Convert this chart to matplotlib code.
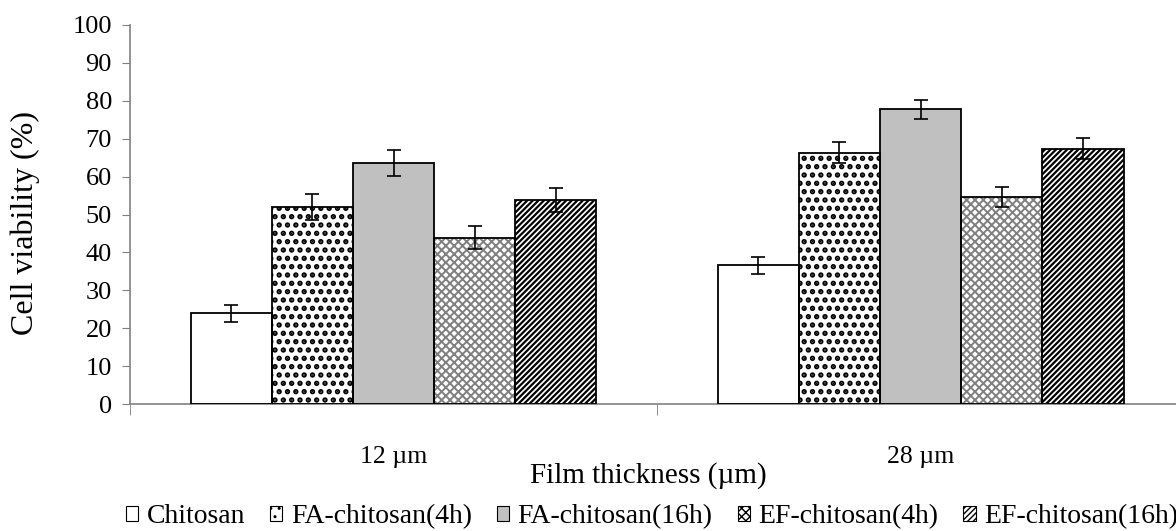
import matplotlib.pyplot as plt
import numpy as np

# data
thickness = ["12 \u00b5m", "28 \u00b5m"]
series = ["Chitosan", "FA-chitosan(4h)", "FA-chitosan(16h)", "EF-chitosan(4h)", "EF-chitosan(16h)"]
chitosan = [23.9, 36.6]
fa_4h = [52.0, 66.3]
fa_16h = [63.5, 77.8]
ef_4h = [43.9, 54.7]
ef_16h = [53.9, 67.4]
chitosan_err = [2.2, 2.3]
fa_4h_err = [3.5, 2.7]
fa_16h_err = [3.4, 2.5]
ef_4h_err = [3.0, 2.6]
ef_16h_err = [3.2, 2.8]

values = [chitosan, fa_4h, fa_16h, ef_4h, ef_16h]
errors = [chitosan_err, fa_4h_err, fa_16h_err, ef_4h_err, ef_16h_err]

# fill, hatch, hatch colour, hatch linewidth for each series
styles = [("white", "", "black", 1.0),
          ("white", "..", "black", 2.6),
          ("#c0c0c0", "", "black", 1.0),
          ("white", "xxxx", "#808080", 1.4),
          ("white", "//////", "black", 1.6)]

plt.rcParams['font.family'] = ['Liberation Serif', 'DejaVu Serif']

fig = plt.figure(figsize=(11.76, 5.31), dpi=100)
ax = fig.add_axes([0.1105, 0.239, 0.8965, 0.714])

x = np.arange(len(thickness))
w = 0.154
handles = []
for i, (vals, errs) in enumerate(zip(values, errors)):
    fc, hatch, hc, hlw = styles[i]
    pos = x + (i - 2) * w
    with plt.rc_context({'hatch.linewidth': hlw}):
        # hatch layer, then outline + error bars on top
        ax.bar(pos, vals, w, color=fc, edgecolor=hc, hatch=hatch, linewidth=0, zorder=2)
        h = plt.Rectangle((0, 0), 1, 1, facecolor=fc, edgecolor="black", hatch=hatch, linewidth=0.8)
    ax.bar(pos, vals, w, fill=False, edgecolor="black", linewidth=1.3, zorder=3)
    ax.errorbar(pos, vals, yerr=errs, fmt="none", ecolor="black", elinewidth=1.2,
                capsize=5, capthick=1.2, zorder=4)
    handles.append(h)

ax.set_xlim(-0.5, 1.5)
ax.set_ylim(0, 100)
ax.set_yticks(np.arange(0, 101, 10))
ax.set_xticks(x)
ax.set_xticklabels(thickness)
ax.set_xticks([-0.5, 0.5, 1.5], minor=True)
ax.tick_params(axis='x', which='major', length=0, pad=30, labelsize=18.5)
ax.tick_params(axis='x', which='minor', length=8, color="#808080", direction='out')
ax.tick_params(axis='y', length=6, color="#808080", labelsize=19, pad=7)
for s in ["top", "right"]:
    ax.spines[s].set_visible(False)
for s in ["left", "bottom"]:
    ax.spines[s].set_color("#808080")
    ax.spines[s].set_linewidth(1.2)

ax.set_ylabel("Cell viability (%)", fontsize=23)
ax.yaxis.set_label_coords(40 / 1176, (531 - 223) / 531, transform=fig.transFigure)
ax.set_xlabel("Film thickness (\u00b5m)", fontsize=21)
ax.xaxis.set_label_coords(648 / 1176, (531 - 462) / 531, transform=fig.transFigure)

fig.legend(handles, series, loc="center", bbox_to_anchor=(652 / 1176, 0.027), ncol=5,
           frameon=False, fontsize=20, handlelength=0.45, handleheight=0.45,
           handletextpad=0.3, columnspacing=0.9)

fig.savefig("out.png", dpi=100)
